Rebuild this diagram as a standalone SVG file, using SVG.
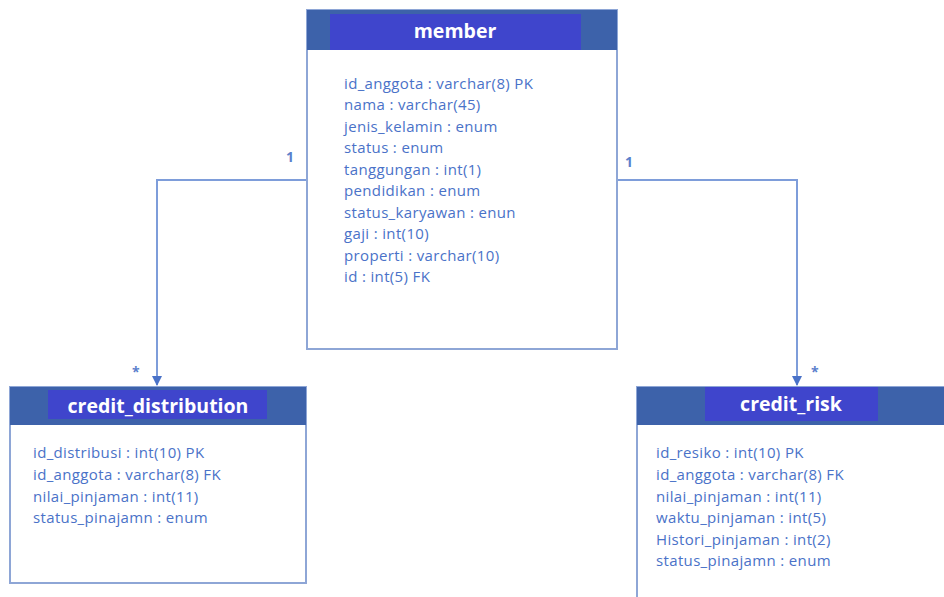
<svg xmlns="http://www.w3.org/2000/svg" width="944" height="597" viewBox="0 0 944 597">
<defs>
<style>
.box{fill:#ffffff;stroke:#8EA6D6;stroke-width:2}
.hdr{fill:#3D62AA}
.ttl{fill:#3F45CC}
.tt{font-family:"Open Sans","Liberation Sans",sans-serif;font-weight:bold;font-size:19.5px;fill:#ffffff;text-anchor:middle}
.f{font-family:"Open Sans","Liberation Sans",sans-serif;font-size:15px;letter-spacing:0.35px;fill:#4A72C8}
.lbl{font-family:"Open Sans","Liberation Sans",sans-serif;font-size:14px;font-weight:bold;fill:#5B7FCC}
.con{fill:none;stroke:#7E9DDA;stroke-width:2}
</style>
<marker id="arr" markerWidth="10" markerHeight="10" refX="9" refY="5" orient="auto" markerUnits="userSpaceOnUse">
<path d="M0,0 L10,5 L0,10 z" fill="#4A72C8"/>
</marker>
</defs>
<rect width="944" height="597" fill="#ffffff"/>
<g id="connectors">
<polyline class="con" points="307,180 157,180 157,385" marker-end="url(#arr)"/>
<polyline class="con" points="617,180 797,180 797,385" marker-end="url(#arr)"/>
<text class="lbl" x="286" y="162">1</text>
<text class="lbl" x="625" y="167">1</text>
<text class="lbl" x="132" y="377">*</text>
<text class="lbl" x="811" y="377">*</text>
</g>
<g id="member">
<rect class="box" x="307" y="10" width="310" height="339"/>
<rect class="hdr" x="307" y="10" width="310" height="40"/>
<rect class="ttl" x="330" y="14" width="251" height="36"/>
<text class="tt" x="455" y="38">member</text>
<text class="f" x="344" y="89">id_anggota : varchar(8) PK</text>
<text class="f" x="344" y="110">nama : varchar(45)</text>
<text class="f" x="344" y="132">jenis_kelamin : enum</text>
<text class="f" x="344" y="153">status : enum</text>
<text class="f" x="344" y="175">tanggungan : int(1)</text>
<text class="f" x="344" y="196">pendidikan : enum</text>
<text class="f" x="344" y="218">status_karyawan : enun</text>
<text class="f" x="344" y="239">gaji : int(10)</text>
<text class="f" x="344" y="261">properti : varchar(10)</text>
<text class="f" x="344" y="282">id : int(5) FK</text>
</g>
<g id="credit_distribution">
<rect class="box" x="10" y="387" width="296" height="196"/>
<rect class="hdr" x="10" y="387" width="296" height="38"/>
<rect class="ttl" x="48" y="390" width="219" height="29"/>
<text class="tt" x="158" y="413">credit_distribution</text>
<text class="f" x="33" y="458">id_distribusi : int(10) PK</text>
<text class="f" x="33" y="480">id_anggota : varchar(8) FK</text>
<text class="f" x="33" y="502">nilai_pinjaman : int(11)</text>
<text class="f" x="33" y="523">status_pinajamn : enum</text>
</g>
<g id="credit_risk">
<rect class="box" x="637" y="387" width="320" height="220"/>
<rect class="hdr" x="637" y="387" width="320" height="38"/>
<rect class="ttl" x="705" y="387" width="173" height="34"/>
<text class="tt" x="791" y="411">credit_risk</text>
<text class="f" x="656" y="458">id_resiko : int(10) PK</text>
<text class="f" x="656" y="480">id_anggota : varchar(8) FK</text>
<text class="f" x="656" y="502">nilai_pinjaman : int(11)</text>
<text class="f" x="656" y="523">waktu_pinjaman : int(5)</text>
<text class="f" x="656" y="545">Histori_pinjaman : int(2)</text>
<text class="f" x="656" y="566">status_pinajamn : enum</text>
</g>
</svg>
